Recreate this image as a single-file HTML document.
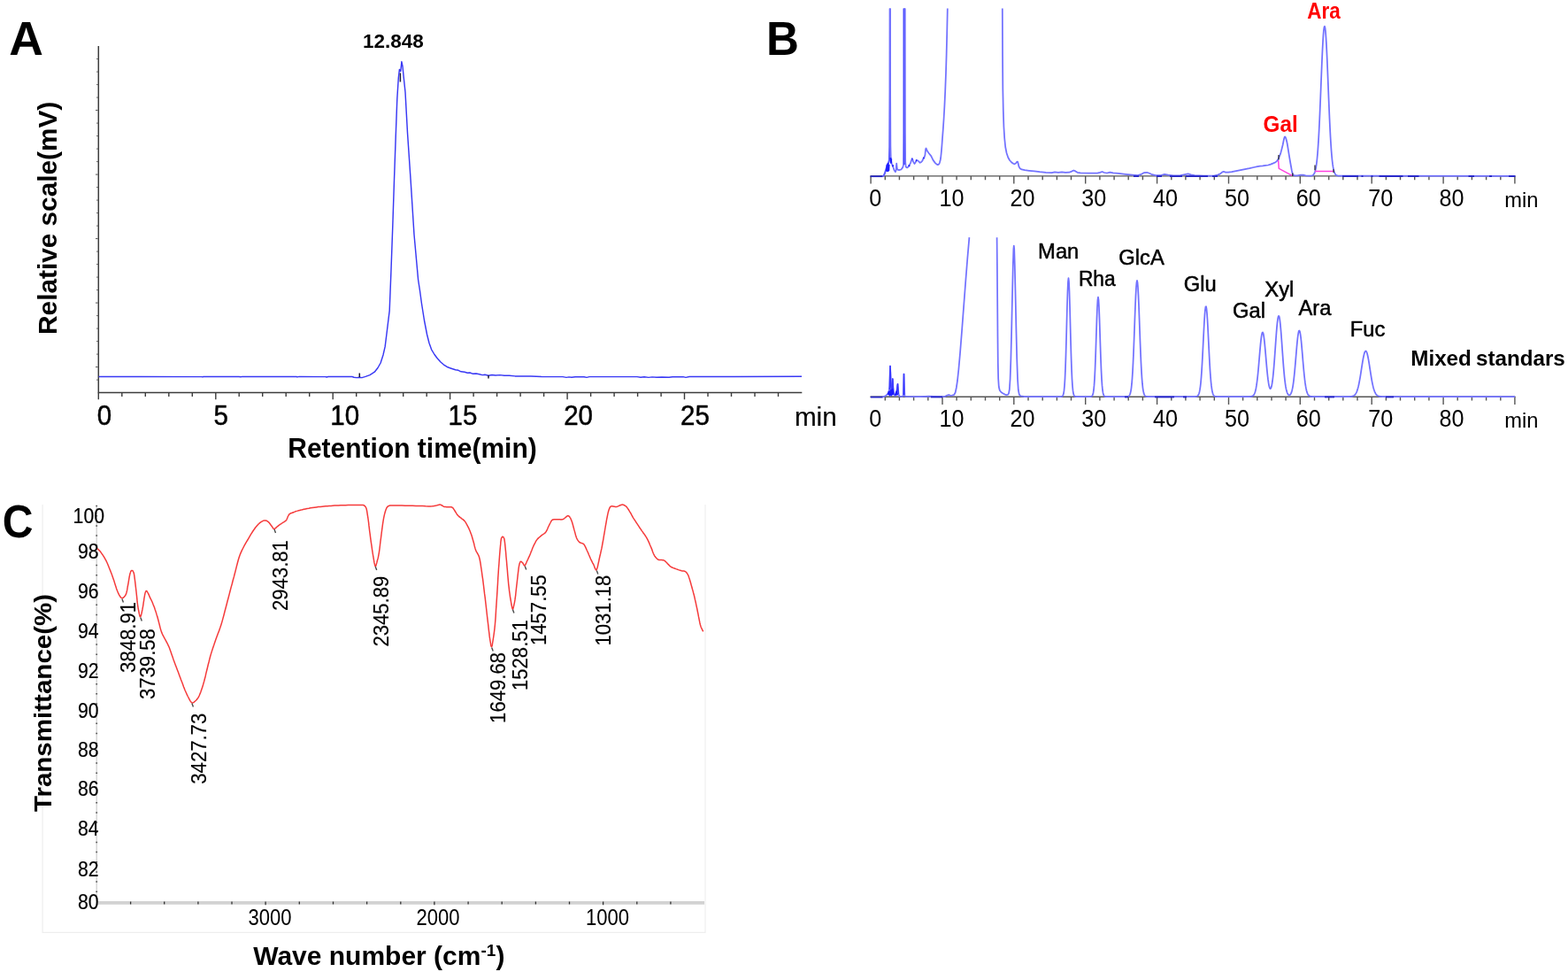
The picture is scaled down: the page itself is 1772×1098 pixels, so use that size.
<!DOCTYPE html>
<html lang="en">
<head>
<meta charset="utf-8">
<title>Figure: HPGPC, monosaccharide composition and FT-IR</title>
<style>
html,body{margin:0;padding:0;background:#fff;}
body{width:1772px;height:1098px;overflow:hidden;}
svg{display:block;}
text{font-family:'Liberation Sans', sans-serif;fill:#000;}
.ax{stroke:#3c3c3c;stroke-width:1.5;fill:none;}
.axb{stroke:#555;stroke-width:1.4;fill:none;}
.tk{stroke:#3c3c3c;stroke-width:1.4;fill:none;}
.ca{stroke:#3838f4;stroke-width:1.45;fill:none;stroke-linejoin:round;}
.cb{stroke:#7272ff;stroke-width:1.75;fill:none;stroke-linejoin:round;}
.cb2{stroke:#5c5cff;stroke-width:2;fill:none;stroke-linejoin:round;}
.cb3{stroke:#4a4aff;stroke-width:2.6;fill:none;stroke-linejoin:round;}
.cbd{stroke:#1c1cff;stroke-width:2;fill:none;stroke-linejoin:round;}
.cbn{stroke:#2424c4;stroke-width:1.8;fill:none;}
.cbs{stroke:#3a3aff;stroke-width:1.5;fill:none;stroke-linejoin:round;}
.cc{stroke:#f53a3a;stroke-width:1.5;fill:none;stroke-linejoin:round;}
.mg{stroke:#ff40e0;stroke-width:1.5;fill:none;}
</style>
</head>
<body>
<svg width="1772" height="1098" viewBox="0 0 1772 1098" role="img" aria-label="Figure with three panels: A chromatogram, B monosaccharide composition, C FT-IR spectrum">
<rect width="1772" height="1098" fill="#fff"/>
<g id="panelA">
<path class="ax" d="M111.3 52V443.6H906.3"/>
<path class="tk" d="M111.3 443.6v7.6M137.8 443.6v4.3M164.3 443.6v4.3M190.8 443.6v4.3M217.3 443.6v4.3M243.8 443.6v7.6M270.2 443.6v4.3M296.7 443.6v4.3M323.2 443.6v4.3M349.7 443.6v4.3M376.2 443.6v7.6M402.7 443.6v4.3M429.2 443.6v4.3M455.7 443.6v4.3M482.2 443.6v4.3M508.6 443.6v7.6M535.1 443.6v4.3M561.6 443.6v4.3M588.1 443.6v4.3M614.6 443.6v4.3M641.1 443.6v7.6M667.6 443.6v4.3M694.1 443.6v4.3M720.6 443.6v4.3M747.1 443.6v4.3M773.5 443.6v7.6M800.0 443.6v4.3M826.5 443.6v4.3M853.0 443.6v4.3M879.5 443.6v4.3"/>
<path class="tk" style="stroke-width:1;stroke:#555" d="M110.8 66.6h-1.7M110.8 81.1h-1.7M110.8 95.6h-1.7M110.8 110.1h-1.7M110.8 124.6h-2.8M110.8 139.1h-1.7M110.8 153.6h-1.7M110.8 168.1h-1.7M110.8 182.6h-1.7M110.8 197.1h-2.8M110.8 211.6h-1.7M110.8 226.1h-1.7M110.8 240.6h-1.7M110.8 255.1h-1.7M110.8 269.6h-2.8M110.8 284.1h-1.7M110.8 298.6h-1.7M110.8 313.1h-1.7M110.8 327.6h-1.7M110.8 342.1h-2.8M110.8 356.6h-1.7M110.8 371.1h-1.7M110.8 385.6h-1.7M110.8 400.1h-1.7M110.8 414.6h-2.8M110.8 429.1h-1.7"/>
<path class="ca" d="M111.6 425.4L160.0 425.4L228.0 425.6L229.0 425.9L230.0 425.4L270.0 425.5L272.0 425.8L274.0 425.4L335.0 425.5L336.0 425.9L338.0 425.4L368.0 425.6L369.0 426.0L371.0 425.5L398.0 425.5L400.0 426.2L403.0 426.6L406.4 426.3L409.0 426.6L413.1 425.4L418.0 423.6L423.3 420.2L427.0 415.5L430.1 410.0L433.0 401.0L435.2 391.4L437.6 372.0L440.2 350.8L442.0 305.0L443.8 255.0L445.5 203.3L447.2 155.0L448.8 111.8L450.3 88.0L451.4 78.5L452.8 80.5L453.9 69.6L455.0 75.0L456.3 88.0L458.0 104.0L460.5 150.0L464.1 203.3L468.0 265.0L472.6 316.0L474.6 329.0L476.5 343.0L479.5 362.0L482.6 378.0L485.0 387.5L487.6 394.8L491.0 400.5L494.4 405.0L498.0 409.0L501.2 411.8L506.0 414.8L510.0 416.2L514.7 417.8L518.0 418.3L521.0 419.8L525.0 420.3L528.3 421.2L531.0 421.0L534.0 422.2L538.0 422.0L541.8 422.8L545.0 423.6L548.0 423.3L552.0 424.3L556.0 423.5L560.0 424.0L565.0 423.6L570.0 424.3L575.7 424.3L582.0 424.9L590.0 424.9L600.0 425.0L612.0 425.5L636.0 425.6L640.0 426.4L643.0 425.9L646.0 426.3L650.0 425.7L660.0 425.8L663.0 426.4L666.0 425.6L720.0 425.6L724.0 426.2L728.0 425.7L733.0 426.4L737.0 425.9L742.0 426.3L748.0 426.0L756.0 426.3L760.0 425.7L772.0 425.6L775.0 426.4L779.0 425.5L830.0 425.4L906.0 425.3"/>
<path d="M406.3 421.5V426M552 424V427.6M452.4 82.5V92.5" stroke="#1a1a30" stroke-width="1.5" fill="none"/>
</g>
<g id="panelB">
<path class="axb" d="M983.5 198.9H1712.5"/>
<path class="axb" d="M984.1 198.9v8.6M1000.3 198.9v4.3M1016.4 198.9v4.3M1032.6 198.9v4.3M1048.8 198.9v4.3M1065.0 198.9v8.6M1081.1 198.9v4.3M1097.3 198.9v4.3M1113.5 198.9v4.3M1129.7 198.9v4.3M1145.8 198.9v8.6M1162.0 198.9v4.3M1178.2 198.9v4.3M1194.4 198.9v4.3M1210.5 198.9v4.3M1226.7 198.9v8.6M1242.9 198.9v4.3M1259.1 198.9v4.3M1275.2 198.9v4.3M1291.4 198.9v4.3M1307.6 198.9v8.6M1323.8 198.9v4.3M1339.9 198.9v4.3M1356.1 198.9v4.3M1372.3 198.9v4.3M1388.5 198.9v8.6M1404.6 198.9v4.3M1420.8 198.9v4.3M1437.0 198.9v4.3M1453.1 198.9v4.3M1469.3 198.9v8.6M1485.5 198.9v4.3M1501.7 198.9v4.3M1517.8 198.9v4.3M1534.0 198.9v4.3M1550.2 198.9v8.6M1566.4 198.9v4.3M1582.5 198.9v4.3M1598.7 198.9v4.3M1614.9 198.9v4.3M1631.1 198.9v8.6M1647.2 198.9v4.3M1663.4 198.9v4.3M1679.6 198.9v4.3M1695.8 198.9v4.3M1711.9 198.9v8.6"/>
<path class="axb" d="M983.5 448.3H1712.5"/>
<path class="axb" d="M1000.3 448.3v4.3M1016.4 448.3v4.3M1032.6 448.3v4.3M1048.8 448.3v4.3M1065.0 448.3v8.6M1081.1 448.3v4.3M1097.3 448.3v4.3M1113.5 448.3v4.3M1129.7 448.3v4.3M1145.8 448.3v8.6M1162.0 448.3v4.3M1178.2 448.3v4.3M1194.4 448.3v4.3M1210.5 448.3v4.3M1226.7 448.3v8.6M1242.9 448.3v4.3M1259.1 448.3v4.3M1275.2 448.3v4.3M1291.4 448.3v4.3M1307.6 448.3v8.6M1323.8 448.3v4.3M1339.9 448.3v4.3M1356.1 448.3v4.3M1372.3 448.3v4.3M1388.5 448.3v8.6M1404.6 448.3v4.3M1420.8 448.3v4.3M1437.0 448.3v4.3M1453.1 448.3v4.3M1469.3 448.3v8.6M1485.5 448.3v4.3M1501.7 448.3v4.3M1517.8 448.3v4.3M1534.0 448.3v4.3M1550.2 448.3v8.6M1566.4 448.3v4.3M1582.5 448.3v4.3M1598.7 448.3v4.3M1614.9 448.3v4.3M1631.1 448.3v8.6M1647.2 448.3v4.3M1663.4 448.3v4.3M1679.6 448.3v4.3M1695.8 448.3v4.3M1711.9 448.3v8.6"/>
<path class="cbn" d="M983.6 199.2L997.6 199.2"/>
<path class="cb2" d="M997.4 199.1L998.9 198.2L1000.0 195.5L1001.2 191.5L1002.4 187.8L1003.3 185.0L1004.2 183.6L1004.9 181.0L1005.3 165.0L1005.6 100.0L1005.7 9.6"/>
<path class="cb" d="M1005.9 9.6L1006.1 100.0L1006.4 165.0L1006.8 180.0L1007.8 185.0L1009.0 187.6L1010.4 192.1L1011.9 194.2L1012.6 192.5L1013.2 184.6L1013.8 190.0L1014.3 191.6L1016.0 192.1L1018.4 191.5L1020.2 189.1L1021.1 186.0L1021.5 150.0L1021.7 9.6"/>
<path class="cbd" d="M1001.9 193.6L1002.5 186.5L1003.1 193.2L1003.7 185.0L1004.3 192.5L1004.6 186.0"/>
<path class="cbd" d="M1006.3 178.2L1006.9 183.8L1007.2 179.5"/>
<path class="cbd" d="M1008.6 186.5L1009.3 188.0"/>
<path class="cb3" d="M1021.9 9.6L1022.0 150.0L1022.1 186.0"/>
<path class="cb" d="M1022.7 9.6L1022.9 150.0L1023.2 183.0L1023.7 188.4L1025.2 189.4L1026.4 188.6L1027.3 187.4L1029.1 183.8L1030.2 180.6L1030.9 179.1L1031.5 180.6L1032.0 182.6L1033.5 185.0L1034.6 183.5L1035.6 180.9L1036.4 181.0L1037.4 181.5L1039.7 183.8L1041.0 183.2L1042.1 182.0L1043.1 180.0L1043.9 178.5L1044.8 177.0L1045.4 175.3L1045.8 171.0L1046.1 168.4L1046.5 167.5L1047.0 168.4L1047.7 170.2L1049.8 173.2L1052.2 176.1L1054.5 180.9L1056.9 184.1L1058.6 185.6L1059.9 186.2L1061.0 185.6L1061.9 183.8L1062.6 181.3L1063.1 178.5L1063.6 174.0L1064.0 169.6L1064.5 163.5L1064.9 157.8L1065.8 145.9L1066.6 134.0L1067.4 120.0L1068.2 103.0L1069.0 82.0L1069.6 62.0L1070.2 38.0L1070.8 9.6"/>
<path class="cbd" d="M1027.0 187.8L1027.8 186.4"/>
<path class="cbd" d="M1030.5 179.8L1031.1 179.4"/>
<path class="cbd" d="M1035.1 181.4L1036.2 181.2"/>
<path class="cbd" d="M1043.5 179.0L1044.3 178.0"/>
<path class="cb" d="M1132.8 9.6L1133.0 60.0L1133.3 100.0L1133.8 125.0L1134.4 143.0L1135.2 156.0L1136.2 166.0L1137.6 173.0L1139.2 177.8L1141.0 181.0L1143.0 183.3L1145.0 184.8L1146.6 185.4L1148.0 184.4L1149.2 182.8L1150.0 182.6L1150.6 184.5L1151.4 188.0L1152.6 190.2L1154.6 191.4L1158.0 192.2L1163.0 192.8L1168.8 193.4L1175.0 194.2L1182.0 194.8L1188.6 195.1L1192.0 194.4L1196.0 194.8L1200.0 194.4L1204.0 194.9L1208.4 194.7L1211.0 193.6L1213.4 192.5L1215.4 193.4L1217.6 194.8L1221.0 195.4L1230.0 195.7L1240.0 195.6L1243.0 194.8L1245.6 194.0L1248.0 195.0L1251.0 195.5L1254.4 194.7L1258.0 195.4L1264.0 195.9L1272.0 196.8L1280.0 197.6L1286.0 198.2L1289.0 197.2L1292.6 195.2L1296.2 194.8L1299.0 195.8L1302.0 197.2L1306.0 198.2L1312.0 198.0L1316.0 196.8L1320.0 197.6L1326.0 198.3L1334.0 198.2L1339.0 197.2L1342.6 196.4L1346.0 197.4L1350.0 198.2L1360.0 198.5L1368.0 198.6L1372.0 198.6L1376.0 197.6L1379.0 196.4L1381.0 194.6L1382.8 193.8L1385.0 194.6L1388.0 194.6L1392.0 194.2L1397.0 193.2L1402.0 192.2L1407.0 191.2L1412.0 190.2L1417.0 189.0L1421.0 188.2L1424.0 187.6L1427.0 187.4L1430.0 186.8L1433.2 186.5L1436.0 185.6L1439.0 184.4L1441.6 183.2L1442.9 182.1L1444.7 179.6L1446.0 176.4L1447.2 173.4L1448.5 168.4L1449.7 163.5L1450.6 159.0L1451.2 156.2L1451.7 154.8L1452.1 154.5L1452.7 155.0L1453.4 156.8L1454.1 159.4L1454.7 162.2L1455.9 169.7L1457.1 177.1L1458.1 183.0L1459.0 188.0L1459.8 192.5L1460.6 196.0L1461.6 197.8L1463.0 198.4L1466.0 198.3L1470.0 197.6L1473.0 197.7L1476.0 198.5L1480.0 198.6L1480.0 198.7L1480.5 198.7L1481.0 198.6L1481.5 198.6L1482.0 198.5L1482.5 198.4L1483.0 198.2L1483.5 198.0L1484.0 197.6L1484.5 197.1L1485.0 196.4L1485.5 195.5L1486.0 194.2L1486.5 192.4L1487.0 190.2L1487.5 187.3L1488.0 183.6L1488.5 179.0L1489.0 173.5L1489.5 166.8L1490.0 159.1L1490.5 150.2L1491.0 140.2L1491.5 129.2L1492.0 117.4L1492.5 105.0L1493.0 92.3L1493.5 79.8L1494.0 67.8L1494.5 56.8L1495.0 47.2L1495.5 39.4L1496.0 33.7L1496.5 30.4L1497.0 29.7L1497.5 31.4L1498.0 35.7L1498.5 42.3L1499.0 50.9L1499.5 61.1L1500.0 72.5L1500.5 84.8L1501.0 97.4L1501.5 110.0L1502.0 122.2L1502.5 133.7L1503.0 144.3L1503.5 153.9L1504.0 162.3L1504.5 169.6L1505.0 175.8L1505.5 181.0L1506.0 185.2L1506.5 188.5L1507.0 191.2L1507.5 193.2L1508.0 194.7L1508.5 195.9L1509.0 196.8L1509.5 197.4L1510.0 197.8L1510.5 198.1L1511.0 198.3L1511.5 198.4L1512.0 198.5L1512.5 198.6L1513.0 198.6L1513.5 198.7L1514.0 198.7L1514.5 198.7L1515.0 198.7L1515.5 198.7L1516.0 198.7L1712.3 198.9"/>
<path class="cbn" d="M1281.0 199.1L1287.0 199.1"/>
<path class="cbn" d="M1307.0 199.1L1313.0 199.1"/>
<path class="cbn" d="M1322.0 199.1L1336.0 199.1"/>
<path class="cbn" d="M1340.0 199.1L1365.0 199.1"/>
<path class="cbn" d="M1370.0 199.1L1376.0 199.1"/>
<path class="cbn" d="M1517.0 199.1L1535.0 199.1"/>
<path class="cbn" d="M1538.5 199.1L1540.5 199.1"/>
<path class="cbn" d="M1549.5 199.1L1551.5 199.1"/>
<path class="cbn" d="M1558.5 199.1L1585.5 199.1"/>
<path class="cbn" d="M1591.0 199.1L1603.5 199.1"/>
<path class="cbn" d="M1659.5 199.1L1666.0 199.1"/>
<path class="cbn" d="M1683.0 199.1L1686.0 199.1"/>
<path class="cbn" d="M1705.0 199.1L1712.3 199.1"/>
<path class="mg" d="M1444.6 181L1445.3 190.3L1460.2 198.3M1486.1 193.5H1506.7"/>
<path d="M1445 175V180.5M1460.8 195.5V199M1486 186.5V192.2M1507.1 191.2V195" stroke="#222" stroke-width="1.2" fill="none"/>
<path class="cbn" d="M983.8 448.6L997.6 448.6"/>
<path class="cb" d="M997.4 448.4L1000.0 447.6L1002.0 446.2L1003.6 444.2L1004.8 441.5L1005.4 436.0L1005.8 420.0L1006.0 413.6L1006.3 420.0L1006.7 432.0L1007.3 440.0L1007.9 444.5L1008.4 438.0L1008.8 428.0L1009.2 436.0L1009.8 443.0L1010.6 446.6L1011.8 447.0L1012.8 445.0L1013.6 441.0L1014.1 436.0L1014.5 433.8L1014.9 438.0L1015.5 445.0L1016.4 447.6L1019.0 447.9L1020.8 447.4L1021.2 436.0L1021.5 422.6L1021.9 436.0L1022.4 447.4L1024.0 448.0L1040.0 448.1L1050.0 447.7L1060.0 448.1L1068.0 447.8L1070.5 446.6L1072.2 446.0L1074.0 446.8L1076.0 446.6L1078.2 446.0L1079.6 443.5L1080.8 438.0L1082.0 430.0L1083.4 417.0L1085.0 399.0L1087.0 374.0L1089.2 345.0L1091.4 316.0L1093.4 291.0L1095.4 268.2"/>
<path class="cbs" d="M1005.3 440.0L1005.8 420.0L1006.0 413.6L1006.3 420.0L1006.8 434.0L1007.3 442.0"/>
<path class="cbs" d="M1008.2 440.0L1008.8 428.0L1009.3 438.0L1009.7 444.0"/>
<path class="cbs" d="M1013.3 443.0L1014.5 433.8L1014.9 440.0L1015.3 445.0"/>
<path class="cbs" d="M1021.1 446.0L1021.5 422.6L1021.9 446.0"/>
<path class="cbd" d="M1003.6 446.0L1004.6 442.5L1005.4 446.5L1006.6 441.0L1007.4 446.5L1008.6 440.0L1009.4 446.0"/>
<path class="cbd" d="M1011.6 446.6L1013.2 442.5L1014.2 446.4"/>
<path class="cb" d="M1126.6 268.2L1126.9 300.0L1127.2 340.0L1127.5 380.0L1127.8 410.0L1128.2 428.0L1128.8 437.0L1129.8 441.0L1131.4 443.0L1133.6 444.4L1135.6 445.6L1137.4 446.2L1138.8 446.0L1140.0 444.4L1140.8 440.0L1141.6 428.0L1142.4 405.0L1143.2 372.0L1144.0 335.0L1144.8 300.0L1145.4 281.0L1145.8 277.6L1146.2 281.0L1146.8 300.0L1147.6 335.0L1148.4 372.0L1149.2 405.0L1150.0 428.0L1150.8 440.5L1151.8 445.6L1153.3 447.4L1157.0 447.8"/>
<path class="cb" d="M1157.0 448.0L1199.0 448.0L1199.5 447.9L1200.0 447.8L1200.5 447.6L1201.0 447.1L1201.5 446.2L1202.0 444.3L1202.5 441.2L1203.0 436.0L1203.5 428.1L1204.0 416.8L1204.5 402.1L1205.0 384.4L1205.5 364.9L1206.0 345.6L1206.5 329.2L1207.0 318.1L1207.5 314.2L1208.0 318.1L1208.5 329.2L1209.0 345.6L1209.5 364.9L1210.0 384.4L1210.5 402.1L1211.0 416.8L1211.5 428.1L1212.0 436.0L1212.5 441.2L1213.0 444.3L1213.5 446.2L1214.0 447.1L1214.5 447.6L1215.0 447.8L1215.5 447.9L1216.0 448.0L1232.5 448.0L1233.0 447.9L1233.5 447.7L1234.0 447.4L1234.5 446.8L1235.0 445.7L1235.5 443.7L1236.0 440.5L1236.5 435.4L1237.0 428.1L1237.5 418.1L1238.0 405.5L1238.5 390.8L1239.0 375.1L1239.5 359.9L1240.0 347.1L1240.5 338.6L1241.0 335.6L1241.5 338.6L1242.0 347.1L1242.5 359.9L1243.0 375.1L1243.5 390.8L1244.0 405.5L1244.5 418.1L1245.0 428.1L1245.5 435.4L1246.0 440.5L1246.5 443.7L1247.0 445.7L1247.5 446.8L1248.0 447.4L1248.5 447.7L1249.0 447.9L1249.5 448.0L1273.5 448.0L1274.0 447.9L1274.5 447.9L1275.0 447.7L1275.5 447.5L1276.0 447.1L1276.5 446.5L1277.0 445.4L1277.5 443.9L1278.0 441.6L1278.5 438.3L1279.0 433.7L1279.5 427.6L1280.0 419.9L1280.5 410.3L1281.0 399.0L1281.5 386.3L1282.0 372.7L1282.5 358.8L1283.0 345.5L1283.5 333.9L1284.0 324.7L1284.5 318.9L1285.0 316.9L1285.5 318.9L1286.0 324.7L1286.5 333.9L1287.0 345.5L1287.5 358.8L1288.0 372.7L1288.5 386.3L1289.0 399.0L1289.5 410.3L1290.0 419.9L1290.5 427.6L1291.0 433.7L1291.5 438.3L1292.0 441.6L1292.5 443.9L1293.0 445.4L1293.5 446.5L1294.0 447.1L1294.5 447.5L1295.0 447.7L1295.5 447.9L1296.0 447.9L1296.5 448.0L1351.0 448.0L1351.5 447.9L1352.0 447.8L1352.5 447.7L1353.0 447.5L1353.5 447.2L1354.0 446.6L1354.5 445.8L1355.0 444.5L1355.5 442.7L1356.0 440.2L1356.5 436.8L1357.0 432.3L1357.5 426.6L1358.0 419.6L1358.5 411.5L1359.0 402.3L1359.5 392.3L1360.0 382.0L1360.5 372.0L1361.0 362.8L1361.5 355.1L1362.0 349.6L1362.5 346.5L1363.0 346.2L1363.5 348.7L1364.0 353.8L1364.5 361.1L1365.0 370.0L1365.5 380.0L1366.0 390.3L1366.5 400.3L1367.0 409.7L1367.5 418.1L1368.0 425.3L1368.5 431.2L1369.0 435.9L1369.5 439.6L1370.0 442.3L1370.5 444.2L1371.0 445.6L1371.5 446.5L1372.0 447.1L1372.5 447.5L1373.0 447.7L1373.5 447.8L1374.0 447.9L1374.5 447.9L1375.0 448.0L1412.5 448.0L1413.0 447.9L1413.5 447.9L1414.0 447.8L1414.5 447.7L1415.0 447.6L1415.5 447.4L1416.0 447.1L1416.5 446.6L1417.0 446.0L1417.5 445.1L1418.0 444.0L1418.5 442.5L1419.0 440.6L1419.5 438.2L1420.0 435.2L1420.5 431.7L1421.0 427.6L1421.5 423.0L1422.0 417.8L1422.5 412.2L1423.0 406.3L1423.5 400.4L1424.0 394.6L1424.5 389.2L1425.0 384.4L1425.5 380.4L1426.0 377.5L1426.5 375.8L1427.0 375.4L1427.5 376.3L1428.0 378.5L1428.5 381.9L1429.0 386.2L1429.5 391.3L1430.0 396.8L1430.5 402.7L1431.0 408.6L1431.5 414.3L1432.0 419.6L1432.5 424.5L1433.0 428.7L1433.5 432.2L1434.0 435.1L1434.5 437.1L1435.0 438.5L1435.5 439.1L1436.0 438.9L1436.5 438.0L1437.0 436.3L1437.5 433.8L1438.0 430.5L1438.5 426.5L1439.0 421.7L1439.5 416.1L1440.0 409.9L1440.5 403.2L1441.0 396.2L1441.5 389.1L1442.0 382.0L1442.5 375.4L1443.0 369.4L1443.5 364.3L1444.0 360.4L1444.5 357.9L1445.0 356.8L1445.5 357.3L1446.0 359.3L1446.5 362.6L1447.0 367.3L1447.5 372.9L1448.0 379.3L1448.5 386.2L1449.0 393.4L1449.5 400.5L1450.0 407.4L1450.5 413.9L1451.0 419.8L1451.5 425.1L1452.0 429.7L1452.5 433.6L1453.0 436.9L1453.5 439.5L1454.0 441.6L1454.5 443.3L1455.0 444.5L1455.5 445.4L1456.0 446.0L1456.5 446.3L1457.0 446.4L1457.5 446.3L1458.0 446.0L1458.5 445.3L1459.0 444.4L1459.5 443.2L1460.0 441.5L1460.5 439.4L1461.0 436.8L1461.5 433.6L1462.0 429.8L1462.5 425.4L1463.0 420.5L1463.5 415.1L1464.0 409.3L1464.5 403.4L1465.0 397.3L1465.5 391.5L1466.0 386.2L1466.5 381.5L1467.0 377.8L1467.5 375.1L1468.0 373.6L1468.5 373.5L1469.0 374.7L1469.5 377.1L1470.0 380.7L1470.5 385.2L1471.0 390.4L1471.5 396.2L1472.0 402.1L1472.5 408.2L1473.0 414.0L1473.5 419.5L1474.0 424.5L1474.5 429.0L1475.0 432.9L1475.5 436.2L1476.0 438.9L1476.5 441.2L1477.0 442.9L1477.5 444.3L1478.0 445.4L1478.5 446.2L1479.0 446.7L1479.5 447.1L1480.0 447.4L1480.5 447.6L1481.0 447.8L1481.5 447.8L1482.0 447.9L1482.5 447.9L1483.0 448.0L1525.5 448.0L1526.0 447.9L1526.5 447.9L1527.0 447.8L1527.5 447.8L1528.0 447.7L1528.5 447.6L1529.0 447.4L1529.5 447.2L1530.0 447.0L1530.5 446.6L1531.0 446.2L1531.5 445.6L1532.0 444.9L1532.5 444.1L1533.0 443.1L1533.5 441.9L1534.0 440.4L1534.5 438.8L1535.0 436.9L1535.5 434.7L1536.0 432.3L1536.5 429.7L1537.0 426.8L1537.5 423.8L1538.0 420.6L1538.5 417.4L1539.0 414.2L1539.5 411.0L1540.0 407.9L1540.5 405.1L1541.0 402.6L1541.5 400.4L1542.0 398.6L1542.5 397.4L1543.0 396.7L1543.5 396.5L1544.0 396.9L1544.5 397.8L1545.0 399.3L1545.5 401.2L1546.0 403.5L1546.5 406.2L1547.0 409.1L1547.5 412.2L1548.0 415.5L1548.5 418.7L1549.0 421.9L1549.5 425.0L1550.0 428.0L1550.5 430.8L1551.0 433.3L1551.5 435.6L1552.0 437.7L1552.5 439.5L1553.0 441.0L1553.5 442.4L1554.0 443.5L1554.5 444.4L1555.0 445.2L1555.5 445.9L1556.0 446.4L1556.5 446.8L1557.0 447.1L1557.5 447.3L1558.0 447.5L1558.5 447.6L1559.0 447.7L1559.5 447.8L1560.0 447.9L1560.5 447.9L1561.0 447.9L1561.5 448.0L1712.0 448.0"/>
<path class="cbn" d="M1052.0 448.5L1065.0 448.5"/>
<path class="cbn" d="M1271.0 448.5L1275.0 448.5"/>
<path class="cbn" d="M1305.0 448.5L1327.0 448.5"/>
<path class="cbn" d="M1337.0 448.5L1341.0 448.5"/>
<path class="cbn" d="M1497.0 448.5L1508.0 448.5"/>
<path class="cbn" d="M1566.0 448.5L1575.0 448.5"/>
</g>
<g id="panelC">
<path d="M48.1 570V1053.4H797V570" stroke="#eeeeee" stroke-width="1.2" fill="none"/>
<path d="M110.8 1019.9H796" stroke="#d2d2d2" stroke-width="3.6" fill="none"/>
<path d="M109.2 571V1018" stroke="#d0d0d0" stroke-width="1.3" fill="none"/>
<path d="M147.6 1018.4v3.2M185.7 1018.4v3.2M223.9 1018.4v3.2M262.0 1018.4v3.2M300.1 1018.4v3.8M338.3 1018.4v3.2M376.5 1018.4v3.2M414.6 1018.4v3.2M452.8 1018.4v3.2M490.9 1018.4v3.8M529.1 1018.4v3.2M567.2 1018.4v3.2M605.4 1018.4v3.2M643.5 1018.4v3.2M681.6 1018.4v3.8M719.8 1018.4v3.2M757.9 1018.4v3.2" stroke="#333" stroke-width="1.3" fill="none"/>
<path d="M108.3 571.6h1.8M108.3 582.8h1.8M108.3 593.9h1.8M108.3 605.1h1.8M108.3 616.3h1.8M108.3 627.5h1.8M108.3 638.6h1.8M108.3 649.8h1.8M108.3 661.0h1.8M108.3 672.1h1.8M108.3 683.3h1.8M108.3 694.5h1.8M108.3 705.6h1.8M108.3 716.8h1.8M108.3 728.0h1.8M108.3 739.2h1.8M108.3 750.3h1.8M108.3 761.5h1.8M108.3 772.7h1.8M108.3 783.8h1.8M108.3 795.0h1.8M108.3 806.2h1.8M108.3 817.3h1.8M108.3 828.5h1.8M108.3 839.7h1.8M108.3 850.9h1.8M108.3 862.0h1.8M108.3 873.2h1.8M108.3 884.4h1.8M108.3 895.5h1.8M108.3 906.7h1.8M108.3 917.9h1.8M108.3 929.0h1.8M108.3 940.2h1.8M108.3 951.4h1.8M108.3 962.5h1.8M108.3 973.7h1.8M108.3 984.9h1.8M108.3 996.1h1.8M108.3 1007.2h1.8" stroke="#5a5a5a" stroke-width="1.5" fill="none"/>
<text style="font-size:24.8px;stroke:#000;stroke-width:0.2px" transform="translate(82.6 591.0) scale(0.856 1)">100</text>
<text style="font-size:24.8px;stroke:#000;stroke-width:0.2px" text-anchor="end" transform="translate(111.5 630.6) scale(0.856 1)">98</text>
<text style="font-size:24.8px;stroke:#000;stroke-width:0.2px" text-anchor="end" transform="translate(111.5 676.0) scale(0.856 1)">96</text>
<text style="font-size:24.8px;stroke:#000;stroke-width:0.2px" text-anchor="end" transform="translate(111.5 721.2) scale(0.856 1)">94</text>
<text style="font-size:24.8px;stroke:#000;stroke-width:0.2px" text-anchor="end" transform="translate(111.5 765.9) scale(0.856 1)">92</text>
<text style="font-size:24.8px;stroke:#000;stroke-width:0.2px" text-anchor="end" transform="translate(111.5 810.5) scale(0.856 1)">90</text>
<text style="font-size:24.8px;stroke:#000;stroke-width:0.2px" text-anchor="end" transform="translate(111.5 855.2) scale(0.856 1)">88</text>
<text style="font-size:24.8px;stroke:#000;stroke-width:0.2px" text-anchor="end" transform="translate(111.5 899.2) scale(0.856 1)">86</text>
<text style="font-size:24.8px;stroke:#000;stroke-width:0.2px" text-anchor="end" transform="translate(111.5 944.4) scale(0.856 1)">84</text>
<text style="font-size:24.8px;stroke:#000;stroke-width:0.2px" text-anchor="end" transform="translate(111.5 989.5) scale(0.856 1)">82</text>
<text style="font-size:24.8px;stroke:#000;stroke-width:0.2px" text-anchor="end" transform="translate(111.5 1026.7) scale(0.856 1)">80</text>
<path class="cc" d="M110.1 619.6L110.7 620.2L111.5 621.1L112.5 622.1L113.5 623.3L114.5 624.6L115.5 626.1L116.6 627.7L117.7 629.4L118.8 631.3L119.8 633.1L120.7 635.0L121.6 637.0L122.4 639.0L123.2 641.0L124.0 643.0L124.8 644.9L125.5 646.8L126.2 648.6L126.9 650.4L127.5 652.2L128.1 653.9L128.7 655.6L129.2 657.3L129.7 658.9L130.2 660.5L130.7 662.0L131.2 663.5L131.6 664.9L132.1 666.2L132.6 667.5L133.1 668.7L133.6 669.9L134.2 671.1L134.7 672.1L135.2 673.0L135.7 673.8L136.2 674.4L136.7 675.0L137.2 675.4L137.7 675.6L138.2 675.6L138.8 675.5L139.3 675.2L139.9 674.7L140.4 674.2L140.9 673.6L141.4 673.0L141.9 672.2L142.4 671.2L142.8 670.0L143.2 668.5L143.6 666.9L143.9 665.0L144.2 663.0L144.6 661.0L145.0 658.8L145.4 656.3L145.8 653.8L146.2 651.5L146.6 649.6L146.9 648.2L147.2 647.2L147.5 646.4L147.7 645.7L148.0 645.2L148.3 644.8L148.5 644.6L148.7 644.5L149.0 644.5L149.2 644.5L149.4 644.5L149.7 644.6L149.9 644.7L150.2 645.0L150.4 645.4L150.6 645.8L150.9 646.3L151.1 647.0L151.4 648.0L151.7 649.6L152.0 651.9L152.4 654.8L152.8 658.1L153.2 661.6L153.6 665.0L154.0 668.5L154.4 672.3L154.8 676.1L155.1 679.7L155.5 682.8L155.9 685.3L156.2 687.5L156.6 689.4L156.9 691.0L157.2 692.5L157.5 693.9L157.8 695.0L158.0 696.0L158.3 696.6L158.6 696.8L158.9 696.5L159.2 695.7L159.5 694.7L159.9 693.4L160.2 692.0L160.5 690.5L160.9 688.7L161.2 686.8L161.6 684.8L161.9 682.8L162.2 680.6L162.6 678.3L162.9 675.9L163.3 673.8L163.6 672.0L163.9 670.6L164.2 669.4L164.6 668.5L164.9 667.9L165.2 667.5L165.5 667.4L165.9 667.7L166.2 668.1L166.6 668.8L167.0 669.5L167.5 670.4L168.0 671.4L168.5 672.6L169.0 673.9L169.6 675.1L170.2 676.3L170.8 677.5L171.4 678.7L172.0 680.0L172.6 681.5L173.2 683.1L173.9 684.8L174.6 686.6L175.2 688.5L175.9 690.4L176.5 692.4L177.1 694.4L177.8 696.5L178.4 698.7L179.0 701.0L179.6 703.4L180.3 706.0L180.9 708.6L181.6 711.1L182.3 713.4L183.1 715.4L183.9 717.1L184.7 718.7L185.6 720.3L186.5 722.0L187.4 723.7L188.3 725.4L189.3 727.2L190.2 729.1L191.2 731.2L192.1 733.7L193.1 736.4L194.0 739.2L195.0 742.1L196.0 745.0L197.1 747.9L198.2 750.9L199.3 753.8L200.4 756.7L201.4 759.3L202.3 761.7L203.1 763.9L203.9 766.0L204.6 768.0L205.4 770.0L206.2 772.0L206.9 774.0L207.6 776.0L208.4 777.9L209.1 779.7L209.9 781.5L210.7 783.2L211.4 784.9L212.2 786.5L213.0 788.0L213.7 789.4L214.5 790.8L215.2 792.1L216.0 793.1L216.7 793.7L217.5 793.9L218.3 793.7L219.0 793.3L219.8 792.7L220.6 792.0L221.4 791.3L222.2 790.5L222.9 789.5L223.7 788.5L224.4 787.3L225.1 786.0L225.7 784.5L226.4 782.9L227.0 781.3L227.6 779.5L228.2 777.7L228.8 775.9L229.4 774.0L230.0 771.9L230.7 769.5L231.4 766.7L232.2 763.7L232.9 760.4L233.7 757.2L234.5 754.0L235.2 751.0L236.0 748.0L236.7 745.1L237.5 742.0L238.4 738.9L239.4 735.6L240.5 732.2L241.7 728.8L242.8 725.4L244.0 722.0L245.2 718.7L246.4 715.6L247.6 712.4L248.8 709.1L249.9 705.7L251.0 702.1L252.0 698.4L253.0 694.7L254.0 690.8L255.0 687.0L256.0 683.2L257.0 679.3L258.1 675.3L259.1 671.4L260.1 667.5L261.1 663.6L262.2 659.7L263.2 655.7L264.3 651.9L265.3 648.0L266.3 644.1L267.3 640.1L268.3 636.2L269.3 632.5L270.3 629.2L271.3 626.4L272.4 623.9L273.4 621.6L274.5 619.5L275.5 617.5L276.5 615.6L277.5 613.8L278.5 612.1L279.5 610.5L280.5 608.8L281.5 607.1L282.5 605.4L283.5 603.7L284.5 602.1L285.5 600.5L286.5 599.0L287.6 597.5L288.6 596.0L289.7 594.7L290.7 593.5L291.7 592.4L292.7 591.5L293.6 590.6L294.6 589.9L295.5 589.3L296.4 588.8L297.2 588.4L298.0 588.1L298.8 587.9L299.6 587.9L300.4 588.0L301.2 588.3L301.9 588.6L302.7 589.1L303.4 589.7L304.1 590.4L304.8 591.3L305.5 592.2L306.2 593.2L306.8 594.0L307.4 594.8L308.0 595.7L308.5 596.6L309.1 597.2L309.8 597.4L310.6 597.2L311.4 596.6L312.2 595.9L313.1 595.0L314.0 594.3L314.9 593.6L315.9 592.9L316.9 592.2L317.9 591.6L318.7 591.0L319.4 590.5L320.0 590.2L320.6 589.9L321.1 589.5L321.6 589.2L322.1 588.8L322.5 588.5L323.0 588.2L323.4 587.7L323.8 587.2L324.2 586.5L324.5 585.6L324.9 584.7L325.2 583.8L325.6 583.0L326.0 582.3L326.3 581.7L326.7 581.2L327.1 580.7L327.6 580.3L328.2 580.0L328.8 579.7L329.5 579.5L330.3 579.3L331.0 579.0L331.7 578.7L332.4 578.4L333.2 578.1L334.0 577.7L335.0 577.4L336.1 577.1L337.4 576.7L338.7 576.4L340.2 576.1L341.7 575.7L343.4 575.3L345.2 574.9L347.0 574.5L349.0 574.2L351.0 573.8L353.1 573.5L355.3 573.2L357.6 572.9L359.8 572.6L362.0 572.4L364.1 572.2L366.0 572.0L368.0 571.8L370.0 571.7L372.0 571.5L374.0 571.4L376.0 571.2L378.1 571.1L380.2 571.0L382.5 570.9L385.0 570.8L387.8 570.7L390.6 570.7L393.4 570.6L396.0 570.6L398.5 570.6L400.9 570.5L403.3 570.5L405.3 570.5L407.0 570.5L408.2 570.5L409.0 570.5L409.6 570.5L410.0 570.5L410.5 570.6L411.0 570.8L411.5 571.0L411.9 571.2L412.2 571.6L412.6 572.0L413.0 572.5L413.3 572.9L413.6 573.5L414.0 574.4L414.3 575.7L414.7 577.5L415.0 579.6L415.4 582.1L415.8 584.7L416.2 587.5L416.6 590.4L416.9 593.4L417.3 596.6L417.7 600.1L418.2 603.7L418.7 607.7L419.3 612.2L420.0 616.7L420.6 621.1L421.2 625.0L421.8 628.6L422.4 632.2L422.9 635.4L423.5 637.9L424.0 639.4L424.5 639.7L424.9 638.9L425.3 637.4L425.8 635.7L426.2 634.0L426.6 632.5L427.1 630.9L427.5 629.0L427.9 626.8L428.4 624.1L428.9 620.6L429.4 616.5L429.9 612.0L430.5 607.6L431.0 603.5L431.5 599.7L432.0 595.9L432.5 592.2L433.0 588.9L433.5 585.9L434.0 583.3L434.5 581.1L435.0 579.2L435.5 577.5L436.0 576.0L436.5 574.8L436.9 573.8L437.4 573.0L438.0 572.4L438.6 571.9L439.3 571.5L440.1 571.3L440.9 571.1L441.9 571.1L443.0 571.0L444.2 571.0L445.4 571.0L446.8 571.0L448.6 571.1L451.0 571.1L454.1 571.1L457.9 571.2L462.0 571.3L466.2 571.3L470.0 571.4L473.7 571.5L477.4 571.6L481.0 571.8L484.1 571.9L486.7 571.9L488.5 571.8L489.7 571.7L490.5 571.6L491.1 571.4L492.0 571.2L493.0 571.0L494.1 570.7L495.1 570.4L496.1 570.2L496.9 570.1L497.6 570.1L498.2 570.3L498.6 570.5L499.1 570.8L499.6 571.0L500.1 571.3L500.5 571.6L500.9 571.9L501.4 572.2L502.0 572.4L502.8 572.5L503.7 572.6L504.6 572.7L505.6 572.7L506.5 572.8L507.4 572.8L508.3 572.8L509.2 572.7L510.1 572.8L510.9 573.1L511.6 573.6L512.2 574.3L512.8 575.2L513.4 576.1L514.0 577.0L514.6 578.0L515.3 579.0L515.9 580.1L516.6 581.2L517.3 582.1L518.0 582.8L518.7 583.5L519.5 584.0L520.2 584.6L521.0 585.2L521.8 585.8L522.5 586.3L523.3 586.9L524.1 587.6L524.9 588.4L525.7 589.4L526.5 590.6L527.2 591.9L528.0 593.3L528.8 594.8L529.6 596.4L530.4 598.2L531.2 600.0L531.9 601.9L532.6 603.7L533.2 605.5L533.7 607.2L534.2 609.0L534.7 610.7L535.2 612.5L535.7 614.3L536.1 616.2L536.6 618.1L537.1 619.9L537.7 621.6L538.4 623.1L539.2 624.5L540.0 625.8L540.8 627.3L541.5 629.2L542.1 631.5L542.6 634.0L543.1 636.8L543.5 639.8L544.0 643.0L544.5 646.5L545.0 650.3L545.6 654.2L546.1 658.3L546.6 662.4L547.1 666.6L547.6 670.9L548.2 675.2L548.7 679.6L549.2 684.0L549.7 688.4L550.2 693.0L550.7 697.4L551.2 701.7L551.7 705.7L552.1 709.3L552.5 712.8L552.9 715.9L553.2 718.9L553.6 721.5L554.0 724.1L554.4 726.5L554.7 728.7L555.1 730.1L555.5 730.7L555.9 730.1L556.3 728.7L556.6 726.5L557.0 724.1L557.4 721.5L557.8 719.0L558.2 716.2L558.6 713.2L559.0 709.7L559.4 705.7L559.8 701.0L560.2 695.6L560.5 689.9L560.9 683.9L561.3 678.0L561.7 671.9L562.1 665.4L562.5 659.0L562.8 652.8L563.2 647.1L563.5 642.0L563.9 637.3L564.2 632.9L564.5 628.8L564.8 625.0L565.1 621.4L565.4 618.0L565.7 614.9L565.9 612.2L566.2 610.1L566.4 608.7L566.7 607.8L566.9 607.4L567.1 607.1L567.3 606.8L567.5 606.5L567.7 606.3L567.9 606.2L568.1 606.2L568.3 606.3L568.5 606.4L568.7 606.6L568.9 606.8L569.1 607.2L569.3 607.6L569.5 607.9L569.6 608.0L569.8 608.4L570.0 609.4L570.3 611.4L570.7 614.7L571.1 618.9L571.6 623.8L572.0 629.0L572.5 634.0L572.9 639.1L573.4 644.5L573.8 649.9L574.3 655.1L574.7 659.8L575.2 663.9L575.6 667.6L576.1 671.0L576.5 674.1L577.0 677.0L577.5 679.8L577.9 682.5L578.4 684.9L578.8 686.8L579.2 687.9L579.6 688.1L579.9 687.4L580.2 686.3L580.5 684.9L580.8 683.5L581.1 682.2L581.4 680.8L581.7 679.2L582.0 677.4L582.3 675.1L582.7 672.3L583.0 669.0L583.4 665.5L583.8 661.9L584.2 658.5L584.6 655.0L585.0 651.4L585.4 647.8L585.8 644.6L586.1 642.0L586.4 640.1L586.7 638.6L586.9 637.6L587.1 636.8L587.4 636.0L587.6 635.3L587.9 634.8L588.1 634.5L588.4 634.4L588.7 634.3L589.1 634.4L589.5 634.7L589.9 635.1L590.4 635.5L590.8 636.0L591.2 636.6L591.6 637.5L592.1 638.3L592.5 638.9L593.0 638.9L593.6 638.3L594.1 637.2L594.8 635.8L595.4 634.3L596.0 633.0L596.6 631.8L597.1 630.6L597.7 629.4L598.3 628.2L598.9 626.7L599.6 625.0L600.3 623.1L601.1 621.2L601.8 619.3L602.6 617.5L603.3 615.9L604.1 614.3L604.9 612.8L605.6 611.4L606.5 610.1L607.4 608.9L608.4 607.9L609.4 607.0L610.5 606.1L611.5 605.2L612.6 604.4L613.7 603.7L614.7 603.0L615.8 602.2L616.7 601.2L617.5 600.0L618.2 598.7L618.8 597.3L619.4 595.8L620.0 594.5L620.7 593.2L621.3 591.8L622.0 590.5L622.6 589.3L623.1 588.4L623.6 587.8L623.9 587.4L624.3 587.3L624.6 587.1L625.0 587.0L625.3 586.9L625.7 586.8L626.0 586.7L626.4 586.7L626.9 586.7L627.6 586.7L628.3 586.7L629.2 586.7L630.1 586.7L631.0 586.7L632.0 586.7L633.0 586.8L634.0 586.9L635.0 586.8L635.9 586.7L636.6 586.4L637.3 586.0L637.9 585.5L638.4 585.0L639.0 584.6L639.6 584.1L640.1 583.6L640.7 583.2L641.2 582.8L641.7 582.6L642.2 582.6L642.6 582.8L643.0 583.1L643.4 583.5L643.8 584.0L644.2 584.6L644.7 585.3L645.1 586.2L645.5 587.2L646.0 588.4L646.5 589.8L647.0 591.5L647.5 593.3L648.0 595.2L648.5 597.0L649.0 598.9L649.6 600.9L650.1 602.9L650.6 604.8L651.1 606.3L651.5 607.5L651.9 608.4L652.3 609.1L652.6 609.7L653.0 610.3L653.4 610.9L653.8 611.4L654.2 611.9L654.6 612.3L655.0 612.7L655.5 613.0L656.0 613.1L656.5 613.3L657.0 613.4L657.5 613.6L658.0 613.8L658.5 613.9L659.0 614.1L659.5 614.5L660.1 615.2L660.8 616.4L661.6 617.9L662.4 619.6L663.2 621.5L664.0 623.2L664.8 624.9L665.5 626.7L666.3 628.5L667.0 630.2L667.7 631.8L668.4 633.2L669.1 634.6L669.7 635.8L670.4 637.0L671.0 638.2L671.6 639.7L672.2 641.4L672.9 642.9L673.5 643.9L674.1 643.8L674.7 642.4L675.4 640.1L676.0 637.1L676.7 634.0L677.3 631.0L677.9 628.3L678.6 625.5L679.2 622.7L679.9 619.7L680.5 616.5L681.1 613.0L681.8 609.3L682.4 605.5L683.1 601.7L683.7 598.0L684.3 594.3L685.0 590.5L685.6 586.9L686.3 583.5L686.8 580.8L687.3 578.7L687.7 577.2L688.1 576.0L688.4 575.1L688.8 574.2L689.2 573.4L689.5 572.8L689.8 572.4L690.2 572.1L690.7 571.9L691.3 571.8L691.9 571.8L692.6 572.0L693.3 572.1L694.0 572.2L694.6 572.3L695.2 572.4L695.8 572.4L696.4 572.5L697.0 572.4L697.7 572.2L698.4 571.9L699.0 571.6L699.7 571.3L700.4 571.0L701.0 570.8L701.6 570.5L702.2 570.3L702.8 570.2L703.4 570.1L703.9 570.1L704.5 570.3L705.0 570.5L705.5 570.7L706.0 571.0L706.5 571.3L706.9 571.6L707.4 571.9L707.9 572.4L708.5 573.1L709.2 574.1L710.0 575.2L710.8 576.5L711.6 577.9L712.4 579.2L713.2 580.5L713.9 581.9L714.7 583.3L715.4 584.6L716.2 585.9L717.0 587.1L717.7 588.2L718.5 589.4L719.2 590.5L720.0 591.6L720.8 592.8L721.5 593.9L722.3 595.1L723.0 596.3L723.8 597.4L724.6 598.5L725.3 599.6L726.1 600.6L726.8 601.7L727.6 602.8L728.4 603.9L729.2 605.0L729.9 606.2L730.7 607.4L731.5 608.8L732.3 610.4L733.1 612.1L733.9 613.9L734.6 615.7L735.4 617.5L736.2 619.4L737.0 621.4L737.7 623.4L738.4 625.2L739.1 626.7L739.7 627.8L740.2 628.6L740.7 629.2L741.1 629.8L741.6 630.3L742.1 630.8L742.6 631.3L743.1 631.7L743.6 632.0L744.2 632.3L744.8 632.5L745.4 632.5L746.1 632.5L746.8 632.6L747.4 632.6L748.0 632.6L748.7 632.7L749.3 632.7L750.0 632.8L750.6 633.1L751.2 633.5L751.9 634.1L752.5 634.7L753.2 635.3L753.8 636.0L754.4 636.7L755.1 637.4L755.8 638.1L756.4 638.8L757.0 639.4L757.6 639.8L758.1 640.2L758.6 640.5L759.1 640.7L759.6 641.0L760.1 641.2L760.5 641.4L761.0 641.6L761.5 641.8L762.1 642.0L762.9 642.3L763.7 642.6L764.6 642.9L765.6 643.3L766.5 643.6L767.4 643.9L768.4 644.2L769.4 644.5L770.3 644.8L771.0 645.0L771.6 645.1L772.0 645.1L772.3 645.1L772.7 645.1L773.0 645.1L773.4 645.2L773.7 645.3L774.1 645.4L774.4 645.5L774.8 645.8L775.2 646.1L775.6 646.6L776.0 647.0L776.4 647.6L776.8 648.2L777.2 648.8L777.5 649.4L777.8 650.0L778.2 650.9L778.6 652.2L779.2 653.9L779.8 656.0L780.5 658.3L781.1 660.6L781.8 663.0L782.4 665.3L783.1 667.6L783.7 670.0L784.4 672.5L785.0 675.1L785.6 677.9L786.3 680.8L786.9 683.8L787.6 686.9L788.2 690.0L788.9 693.3L789.5 696.7L790.2 700.2L790.8 703.2L791.4 705.7L791.9 707.4L792.2 708.5L792.6 709.2L792.9 709.8L793.2 710.5L793.5 711.2L793.9 711.9L794.2 712.5L794.5 713.0L794.7 713.4"/>
<path d="M137.89999999999998 676.6l1.5 4.0M158.79999999999998 697.6l1.5 4.0M216.89999999999998 794.6l1.5 4.0M310.0 598.1l1.5 4.0M424.2 640.1l1.5 4.0M555.7 731.6l1.5 4.0M579.4000000000001 688.6l1.5 4.0M593.2 639.6l1.5 4.0M674.3000000000001 644.6l1.5 4.0" stroke="#4a4a4a" stroke-width="1.4" fill="none"/>
</g>
<g id="labels">
<text style="font-size:53.5px;font-weight:bold" x="10.3" y="61.8">A</text>
<text style="font-size:22.5px;font-weight:bold" x="409.9" y="53.9">12.848</text>
<text style="font-size:31px;stroke:#000;stroke-width:0.5px;stroke-linejoin:round" transform="translate(109.7 479.8) scale(0.952 1)">0</text>
<text style="font-size:31px;stroke:#000;stroke-width:0.5px;stroke-linejoin:round" transform="translate(241.4 479.8) scale(0.952 1)">5</text>
<text style="font-size:31px;stroke:#000;stroke-width:0.5px;stroke-linejoin:round" transform="translate(373.3 479.8) scale(0.952 1)">10</text>
<text style="font-size:31px;stroke:#000;stroke-width:0.5px;stroke-linejoin:round" transform="translate(506.5 479.8) scale(0.952 1)">15</text>
<text style="font-size:31px;stroke:#000;stroke-width:0.5px;stroke-linejoin:round" transform="translate(637.2 479.8) scale(0.952 1)">20</text>
<text style="font-size:31px;stroke:#000;stroke-width:0.5px;stroke-linejoin:round" transform="translate(769.0 479.8) scale(0.952 1)">25</text>
<text style="font-size:29.7px;stroke:#000;stroke-width:0.2px;stroke-linejoin:round" x="897.9" y="480.6">min</text>
<text style="font-size:30.6px;font-weight:bold" transform="translate(325.3 517.0) scale(0.98 1)">Retention time(min)</text>
<text style="font-size:30px;font-weight:bold" transform="translate(64.0 377.9) rotate(-90) scale(0.993 1)">Relative scale(mV)</text>
<text style="font-size:53.5px;font-weight:bold" transform="translate(865.9 61.5) scale(0.955 1)">B</text>
<text style="font-size:26.8px" transform="translate(982.3 233.1) scale(0.94 1)">0</text>
<text style="font-size:26.8px" transform="translate(1061.6 233.1) scale(0.94 1)">10</text>
<text style="font-size:26.8px" transform="translate(1141.5 233.1) scale(0.94 1)">20</text>
<text style="font-size:26.8px" transform="translate(1222.2 233.1) scale(0.94 1)">30</text>
<text style="font-size:26.8px" transform="translate(1303.0 233.1) scale(0.94 1)">40</text>
<text style="font-size:26.8px" transform="translate(1383.9 233.1) scale(0.94 1)">50</text>
<text style="font-size:26.8px" transform="translate(1464.7 233.1) scale(0.94 1)">60</text>
<text style="font-size:26.8px" transform="translate(1546.2 233.1) scale(0.94 1)">70</text>
<text style="font-size:26.8px" transform="translate(1626.5 233.1) scale(0.94 1)">80</text>
<text style="font-size:23.7px" x="1700.3" y="234.1">min</text>
<text style="font-size:26.8px" transform="translate(982.3 482.3) scale(0.94 1)">0</text>
<text style="font-size:26.8px" transform="translate(1061.6 482.3) scale(0.94 1)">10</text>
<text style="font-size:26.8px" transform="translate(1141.5 482.3) scale(0.94 1)">20</text>
<text style="font-size:26.8px" transform="translate(1222.2 482.3) scale(0.94 1)">30</text>
<text style="font-size:26.8px" transform="translate(1303.0 482.3) scale(0.94 1)">40</text>
<text style="font-size:26.8px" transform="translate(1383.9 482.3) scale(0.94 1)">50</text>
<text style="font-size:26.8px" transform="translate(1464.7 482.3) scale(0.94 1)">60</text>
<text style="font-size:26.8px" transform="translate(1546.2 482.3) scale(0.94 1)">70</text>
<text style="font-size:26.8px" transform="translate(1626.5 482.3) scale(0.94 1)">80</text>
<text style="font-size:23.7px" x="1700.3" y="482.8">min</text>
<text style="font-size:26.6px;font-weight:bold;fill:#ff0000" transform="translate(1477.2 21.3) scale(0.845 1)">Ara</text>
<text style="font-size:25.9px;font-weight:bold;fill:#ff0000" transform="translate(1427.6 149.1) scale(0.935 1)">Gal</text>
<text style="font-size:24px;stroke:#000;stroke-width:0.5px;stroke-linejoin:round" transform="translate(1173.1 291.8) scale(0.99 1)">Man</text>
<text style="font-size:24px;stroke:#000;stroke-width:0.5px;stroke-linejoin:round" transform="translate(1218.9 323.0) scale(0.95 1)">Rha</text>
<text style="font-size:24px;stroke:#000;stroke-width:0.5px;stroke-linejoin:round" transform="translate(1264.3 298.9) scale(0.99 1)">GlcA</text>
<text style="font-size:24px;stroke:#000;stroke-width:0.5px;stroke-linejoin:round" transform="translate(1337.8 329.1) scale(0.99 1)">Glu</text>
<text style="font-size:24px;stroke:#000;stroke-width:0.5px;stroke-linejoin:round" transform="translate(1393.1 358.6) scale(0.99 1)">Gal</text>
<text style="font-size:24px;stroke:#000;stroke-width:0.5px;stroke-linejoin:round" transform="translate(1429.3 335.3) scale(0.99 1)">Xyl</text>
<text style="font-size:24px;stroke:#000;stroke-width:0.5px;stroke-linejoin:round" transform="translate(1467.4 355.7) scale(0.99 1)">Ara</text>
<text style="font-size:24px;stroke:#000;stroke-width:0.5px;stroke-linejoin:round" transform="translate(1525.7 379.5) scale(0.99 1)">Fuc</text>
<text style="font-size:24.2px;font-weight:bold;word-spacing:-1.6px" x="1594.3" y="412.6">Mixed standars</text>
<text style="font-size:52.6px;font-weight:bold" transform="translate(2.8 606.8) scale(0.915 1)">C</text>
<text style="font-size:24.9px" transform="translate(280.4 1045.0) scale(0.886 1)">3000</text>
<text style="font-size:24.9px" transform="translate(470.5 1045.0) scale(0.886 1)">2000</text>
<text style="font-size:24.9px" transform="translate(662.0 1045.0) scale(0.886 1)">1000</text>
<text style="font-size:30px;font-weight:bold" x="286.2" y="1090.0">Wave number (cm<tspan style="font-size:19px" dy="-10.5">-1</tspan><tspan dy="10.5">)</tspan></text>
<text style="font-size:28.4px;font-weight:bold" transform="translate(57.7 917.0) rotate(-90) scale(1.04 1)">Transmittance(%)</text>
<text style="font-size:24.3px;stroke:#000;stroke-width:0.15px;stroke-linejoin:round" transform="translate(152.7 759.9) rotate(-90) scale(0.91 1)">3848.91</text>
<text style="font-size:24.3px;stroke:#000;stroke-width:0.15px;stroke-linejoin:round" transform="translate(175.3 790.0) rotate(-90) scale(0.91 1)">3739.58</text>
<text style="font-size:24.3px;stroke:#000;stroke-width:0.15px;stroke-linejoin:round" transform="translate(232.8 885.7) rotate(-90) scale(0.91 1)">3427.73</text>
<text style="font-size:24.3px;stroke:#000;stroke-width:0.15px;stroke-linejoin:round" transform="translate(324.9 690.0) rotate(-90) scale(0.91 1)">2943.81</text>
<text style="font-size:24.3px;stroke:#000;stroke-width:0.15px;stroke-linejoin:round" transform="translate(438.8 730.6) rotate(-90) scale(0.91 1)">2345.89</text>
<text style="font-size:24.3px;stroke:#000;stroke-width:0.15px;stroke-linejoin:round" transform="translate(570.6 816.9) rotate(-90) scale(0.91 1)">1649.68</text>
<text style="font-size:24.3px;stroke:#000;stroke-width:0.15px;stroke-linejoin:round" transform="translate(595.6 780.0) rotate(-90) scale(0.91 1)">1528.51</text>
<text style="font-size:24.3px;stroke:#000;stroke-width:0.15px;stroke-linejoin:round" transform="translate(616.8 729.0) rotate(-90) scale(0.91 1)">1457.55</text>
<text style="font-size:24.3px;stroke:#000;stroke-width:0.15px;stroke-linejoin:round" transform="translate(689.5 729.5) rotate(-90) scale(0.91 1)">1031.18</text>
</g>
</svg>
</body>
</html>
